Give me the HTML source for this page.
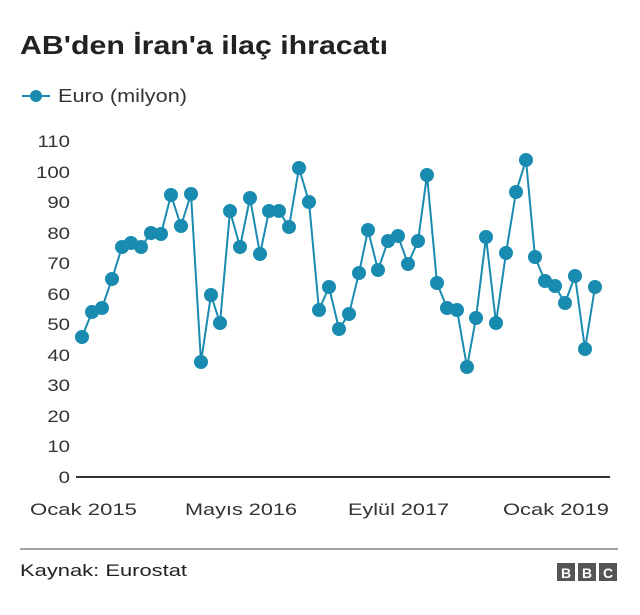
<!DOCTYPE html><html><head><style>body{margin:0;background:#fff;font-family:"Liberation Sans",sans-serif}</style></head><body>
<svg width="640" height="610" xmlns="http://www.w3.org/2000/svg" font-family="Liberation Sans, sans-serif">
<text x="20" y="54" font-size="26" font-weight="bold" fill="#222" textLength="368" lengthAdjust="spacingAndGlyphs">AB'den İran'a ilaç ihracatı</text>
<line x1="22" y1="96" x2="50" y2="96" stroke="#1a8bb0" stroke-width="2"/><circle cx="36" cy="96" r="6" fill="#1a8bb0"/>
<text x="58" y="102" font-size="18" fill="#333" textLength="129" lengthAdjust="spacingAndGlyphs">Euro (milyon)</text>
<g font-size="17" fill="#333" text-anchor="end" transform="translate(70,0) scale(1.2,1) translate(-70,0)">
<text x="70" y="483">0</text><text x="70" y="452">10</text><text x="70" y="422">20</text><text x="70" y="391">30</text><text x="70" y="361">40</text><text x="70" y="330">50</text><text x="70" y="300">60</text><text x="70" y="269">70</text><text x="70" y="239">80</text><text x="70" y="208">90</text><text x="70" y="178">100</text><text x="70" y="147">110</text></g>
<line x1="76" y1="477" x2="610" y2="477" stroke="#333" stroke-width="2"/>
<g font-size="17" fill="#333"><text x="30" y="515" textLength="107" lengthAdjust="spacingAndGlyphs">Ocak 2015</text><text x="185" y="515" textLength="112" lengthAdjust="spacingAndGlyphs">Mayıs 2016</text><text x="348" y="515" textLength="101" lengthAdjust="spacingAndGlyphs">Eylül 2017</text><text x="503" y="515" textLength="106" lengthAdjust="spacingAndGlyphs">Ocak 2019</text></g>
<polyline fill="none" stroke="#1a8bb0" stroke-width="2" points="82,337 92,312 102,308 112,279 122,247 131,243 141,247 151,233 161,234 171,195 181,226 191,194 201,362 211,295 220,323 230,211 240,247 250,198 260,254 269,211 279,211 289,227 299,168 309,202 319,310 329,287 339,329 349,314 359,273 368,230 378,270 388,241 398,236 408,264 418,241 427,175 437,283 447,308 457,310 467,367 476,318 486,237 496,323 506,253 516,192 526,160 535,257 545,281 555,286 565,303 575,276 585,349 595,287"/>
<g fill="#1a8bb0" id="d"></g>
<line x1="20" y1="549" x2="618" y2="549" stroke="#444" stroke-width="1"/>
<text x="20" y="576" font-size="17" fill="#222" textLength="167" lengthAdjust="spacingAndGlyphs">Kaynak: Eurostat</text>
<g><rect x="557" y="563" width="18" height="18" fill="#555"/><rect x="578" y="563" width="18" height="18" fill="#555"/><rect x="599" y="563" width="18" height="18" fill="#555"/>
<g fill="#fff" font-size="14" font-weight="bold" text-anchor="middle"><text x="566" y="578">B</text><text x="587" y="578">B</text><text x="608" y="578">C</text></g></g>
</svg>
<script>
var p="82,337 92,312 102,308 112,279 122,247 131,243 141,247 151,233 161,234 171,195 181,226 191,194 201,362 211,295 220,323 230,211 240,247 250,198 260,254 269,211 279,211 289,227 299,168 309,202 319,310 329,287 339,329 349,314 359,273 368,230 378,270 388,241 398,236 408,264 418,241 427,175 437,283 447,308 457,310 467,367 476,318 486,237 496,323 506,253 516,192 526,160 535,257 545,281 555,286 565,303 575,276 585,349 595,287".split(" ");
var g=document.getElementById("d"),s="";p.forEach(function(q){var a=q.split(",");s+='<circle cx="'+a[0]+'" cy="'+a[1]+'" r="7"/>';});g.innerHTML=s;
</script>
</body></html>
